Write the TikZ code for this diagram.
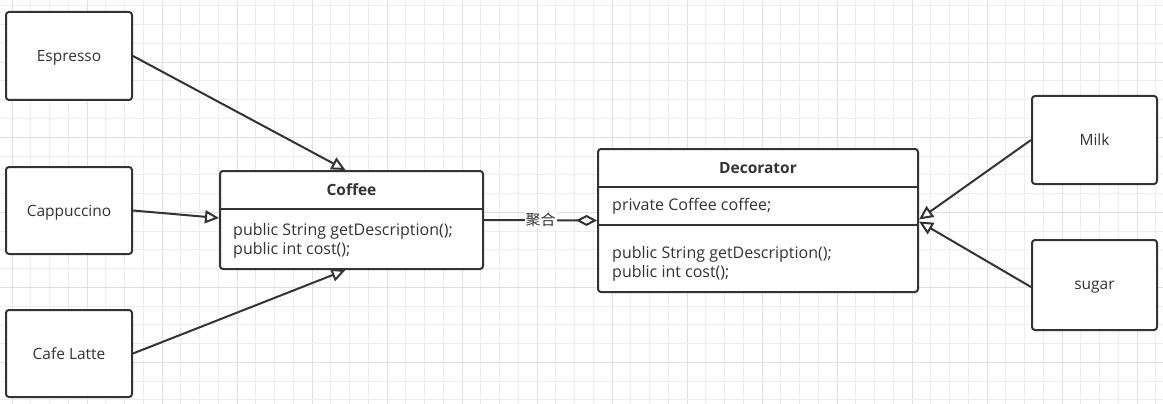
\documentclass[tikz,border=0pt]{standalone}
\usepackage{fontspec}
\setmainfont{Open Sans}
\newfontfamily\cjk{Noto Sans CJK SC}
\usetikzlibrary{arrows.meta}
\definecolor{ink}{HTML}{333333}
\definecolor{gridminor}{HTML}{EDEDED}
\definecolor{gridmajor}{HTML}{E0E0E0}
\tikzset{
  box/.style={draw=ink, line width=2pt, rounded corners=3pt, fill=white, text=ink, font=\fontsize{15.5}{19}\selectfont, inner sep=0pt, text depth=0pt},
  txt/.style={text=ink, font=\fontsize{16}{19}\selectfont, inner sep=0pt, anchor=west},
  hdr/.style={text=ink, font=\fontsize{15.5}{19}\selectfont\bfseries, inner sep=0pt},
  divider/.style={draw=ink, line width=2pt},
  inh/.style={draw=ink, line width=2pt, -{Triangle[open, length=14pt, width=13pt, fill=white]}},
  agg/.style={draw=ink, line width=2pt, -{Diamond[open, length=21pt, width=11pt, fill=white]}},
  lbl/.style={fill=white, text=ink, font=\cjk\fontsize{15}{18}\selectfont, inner sep=1pt}
}
\begin{document}
\begin{tikzpicture}[x=1pt, y=-1pt]
\useasboundingbox (0,0) rectangle (1163,404);
\fill[white] (0,0) rectangle (1163,404);
% background grid
\foreach \i in {0,...,61} {
  \pgfmathsetmacro{\xx}{12+18.75*\i}
  \pgfmathtruncatemacro{\m}{mod(\i,4)}
  \ifnum\m=0 \draw[gridmajor, line width=1pt] (\xx,0) -- (\xx,404);
  \else \draw[gridminor, line width=1pt] (\xx,0) -- (\xx,404); \fi
}
\foreach \j in {0,...,21} {
  \pgfmathsetmacro{\yy}{6+18.75*\j}
  \pgfmathtruncatemacro{\m}{mod(\j,4)}
  \ifnum\m=3 \draw[gridmajor, line width=1pt] (0,\yy) -- (1163,\yy);
  \else \draw[gridminor, line width=1pt] (0,\yy) -- (1163,\yy); \fi
}

% concrete coffees
\node[box, minimum width=126pt, minimum height=88pt] (espresso) at (69,56) {Espresso};
\node[box, minimum width=126pt, minimum height=87pt] (cappuccino) at (69,210.5) {Cappuccino};
\node[box, minimum width=126pt, minimum height=87pt] (latte) at (69,353.5) {Cafe Latte};

% Coffee class
\node[box, minimum width=263pt, minimum height=98pt] (coffee) at (351.5,220) {};
\draw[divider] (coffee.west |- 0,209) -- (coffee.east |- 0,209);
\node[hdr] (coffeeName) at (351.5,190) {Coffee};
\node[txt] (coffeeM1) at (233,231) {public String getDescription();};
\node[txt] (coffeeM2) at (233,250) {public int cost();};

% Decorator class
\node[box, minimum width=320pt, minimum height=143pt] (decorator) at (758,220.5) {};
\draw[divider] (decorator.west |- 0,186.5) -- (decorator.east |- 0,186.5);
\draw[divider] (decorator.west |- 0,224.5) -- (decorator.east |- 0,224.5);
\node[hdr] (decName) at (758,168) {Decorator};
\node[txt] (decField) at (612,206) {private Coffee coffee;};
\node[txt] (decM1) at (612,254) {public String getDescription();};
\node[txt] (decM2) at (612,273) {public int cost();};

% condiments
\node[box, minimum width=125pt, minimum height=88pt] (milk) at (1094.5,140) {Milk};
\node[box, minimum width=125pt, minimum height=90pt] (sugar) at (1094.5,285) {sugar};

% inheritance arrows
\draw[inh] (espresso.east) -- ([xshift=-6pt]coffee.north);
\draw[inh] (cappuccino.east) -- ([yshift=2pt]coffee.west);
\draw[inh] (latte.east) -- ([xshift=-6pt]coffee.south);
\draw[inh] (milk.west) -- ([yshift=1pt]decorator.east);
\draw[inh] ([yshift=-2pt]sugar.west) -- ([yshift=-1pt]decorator.east);

% aggregation
\draw[agg] (coffee.east) -- node[lbl, pos=0.5] (aggLabel) {聚合} (decorator.west);
\end{tikzpicture}
\end{document}
